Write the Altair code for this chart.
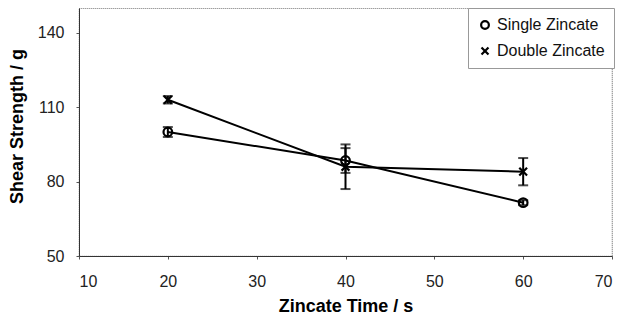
import altair as alt
import pandas as pd

times = [20, 40, 60]
series_names = ["Single Zincate", "Double Zincate"]
single_vals = [100, 88.5, 71.5]
single_err = [2, 5, 1]
double_vals = [113, 86, 84]
double_err = [1.5, 9, 5.5]

rows = []
for name, vals, errs in [(series_names[0], single_vals, single_err),
                         (series_names[1], double_vals, double_err)]:
    for t, v, e in zip(times, vals, errs):
        rows.append({"series": name, "time": t, "value": v, "lo": v - e, "hi": v + e})
df = pd.DataFrame(rows)

FONT = "Liberation Sans"

xs = alt.X("time:Q", title="Zincate Time / s",
           scale=alt.Scale(domain=[10, 70], nice=False),
           axis=alt.Axis(values=[10, 20, 30, 40, 50, 60, 70], grid=False,
                         labelFontSize=16, labelColor="#222", labelPadding=14,
                         titleFontSize=18, titleFontWeight="bold",
                         titleY=50, titleBaseline="middle",
                         tickSize=3, tickColor="#555", domainColor="#333",
                         labelFont=FONT, titleFont=FONT))
ys = alt.Y("value:Q", title="Shear Strength / g",
           scale=alt.Scale(domain=[50, 150], nice=False),
           axis=alt.Axis(values=[50, 80, 110, 140], grid=False,
                         labelFontSize=16, labelColor="#222", labelPadding=12,
                         titleFontSize=18, titleFontWeight="bold",
                         titleX=-62, titleY=118, titleBaseline="middle", titleAlign="center",
                         tickSize=3, tickColor="#555", domainColor="#333",
                         labelFont=FONT, titleFont=FONT))

base = alt.Chart(df)

lines = base.mark_line(color="black", strokeWidth=2).encode(x=xs, y=ys, detail="series:N")

rules = base.mark_rule(color="black", strokeWidth=2).encode(
    x="time:Q", y="lo:Q", y2="hi:Q")
cap_lo = base.mark_tick(orient="horizontal", size=10, thickness=2, color="black").encode(
    x="time:Q", y="lo:Q")
cap_hi = base.mark_tick(orient="horizontal", size=10, thickness=2, color="black").encode(
    x="time:Q", y="hi:Q")

points = base.mark_point(filled=False, size=75, strokeWidth=2.2, color="black", opacity=1).encode(
    x="time:Q", y="value:Q",
    shape=alt.Shape("series:N",
                    scale=alt.Scale(domain=series_names,
                                    range=["circle", "M-0.9,-0.9L0.9,0.9M-0.9,0.9L0.9,-0.9"]),
                    legend=alt.Legend(title=None, orient="none", legendX=389, legendY=0,
                                      labelFontSize=16, labelFont=FONT,
                                      labelColor="#111",
                                      symbolSize=60, symbolStrokeWidth=2.2,
                                      symbolStrokeColor="black", symbolFillColor="white",
                                      fillColor="white", strokeColor="#999",
                                      padding=9, rowPadding=9, labelOffset=4,
                                      symbolOffset=0)))

chart = alt.layer(lines, rules, cap_lo, cap_hi, points).properties(
    width=533, height=248,
    autosize=alt.AutoSizeParams(type="none"),
    padding={"left": 71, "top": 0, "right": 6, "bottom": 60},
).configure_view(stroke="#777", strokeWidth=1.2, strokeDash=[1, 1])

chart.save("out.html", embed_options={"renderer": "svg", "actions": False})
